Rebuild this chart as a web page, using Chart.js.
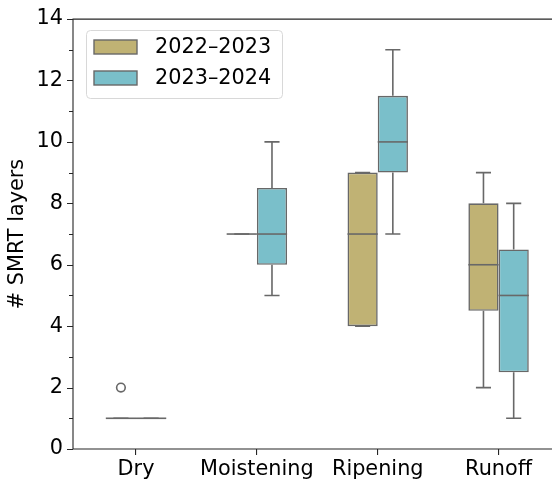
<!DOCTYPE html>
<html>
<head>
<meta charset="utf-8">
<script src="https://cdn.jsdelivr.net/npm/chart.js@4/dist/chart.umd.min.js"></script>
<style>
  html, body { margin: 0; padding: 0; background: #fff; overflow: hidden; }
  #wrap { width: 560px; height: 480px; }
</style>
</head>
<body>
<div id="wrap"><canvas id="box"></canvas></div>
<script>
// categories + series
const categories = ['Dry', 'Moistening', 'Ripening', 'Runoff'];
const seasons = ['2022\u20132023', '2023\u20132024'];

// 2022-2023 box stats
const q1_a  = [1, 7, 4, 4.5];
const med_a = [1, 7, 7, 6];
const q3_a  = [1, 7, 9, 8];
const lo_a  = [1, 7, 4, 2];
const hi_a  = [1, 7, 9, 9];
const out_a = [[2], [], [], []];

// 2023-2024 box stats
const q1_b  = [1, 6, 9, 2.5];
const med_b = [1, 7, 10, 5];
const q3_b  = [1, 8.5, 11.5, 6.5];
const lo_b  = [1, 5, 7, 1];
const hi_b  = [1, 10, 13, 8];
const out_b = [[], [], [], []];

const yTicks = [0, 2, 4, 6, 8, 10, 12, 14];
const yMinor = [1, 3, 5, 7, 9, 11, 13];

const colors = ['#c0b274', '#7abfca'];
const lineCol = '#686868';
const spineCol = '#262626';
const FONT = 'DejaVu Sans';
const SPINE_X = 73;   // left spine sits a bit left of the category area

const stats = [
  { med: med_a, lo: lo_a, hi: hi_a, out: out_a },
  { med: med_b, lo: lo_b, hi: hi_b, out: out_b }
];

// whiskers, medians, outliers, spines, y ticks, legend
const boxPlugin = {
  id: 'boxExtras',
  afterDatasetsDraw(chart) {
    const ctx = chart.ctx;
    const y = chart.scales.y;
    ctx.save();
    ctx.strokeStyle = lineCol;
    ctx.lineWidth = 1.6;
    stats.forEach((s, di) => {
      const meta = chart.getDatasetMeta(di);
      meta.data.forEach((el, i) => {
        const cx = el.x, w = el.width;
        const yq1 = y.getPixelForValue(chart.data.datasets[di].data[i][0]);
        const yq3 = y.getPixelForValue(chart.data.datasets[di].data[i][1]);
        const ylo = y.getPixelForValue(s.lo[i]);
        const yhi = y.getPixelForValue(s.hi[i]);
        ctx.beginPath();
        // whiskers
        ctx.moveTo(cx, yq3); ctx.lineTo(cx, yhi);
        ctx.moveTo(cx, yq1); ctx.lineTo(cx, ylo);
        // caps
        ctx.moveTo(cx - w / 4, yhi); ctx.lineTo(cx + w / 4, yhi);
        ctx.moveTo(cx - w / 4, ylo); ctx.lineTo(cx + w / 4, ylo);
        ctx.stroke();
        // median
        const ym = y.getPixelForValue(s.med[i]);
        ctx.beginPath();
        ctx.moveTo(cx - w / 2, ym); ctx.lineTo(cx + w / 2, ym);
        ctx.stroke();
        // outliers
        s.out[i].forEach(v => {
          ctx.beginPath();
          ctx.arc(cx, y.getPixelForValue(v), 4.3, 0, Math.PI * 2);
          ctx.stroke();
        });
      });
    });
    ctx.restore();
  },
  afterDraw(chart) {
    const ctx = chart.ctx;
    const a = chart.chartArea;
    const y = chart.scales.y;
    ctx.save();
    ctx.strokeStyle = spineCol;
    ctx.lineWidth = 1.1;
    // spines: left, top, bottom
    ctx.beginPath();
    ctx.moveTo(SPINE_X, a.bottom); ctx.lineTo(SPINE_X, a.top);
    ctx.moveTo(SPINE_X - 0.5, a.top); ctx.lineTo(a.right, a.top);
    ctx.moveTo(SPINE_X - 0.5, a.bottom); ctx.lineTo(a.right, a.bottom);
    ctx.stroke();
    // y ticks, major and minor
    ctx.beginPath();
    yTicks.forEach(v => {
      const py = Math.round(y.getPixelForValue(v)) + 0.5;
      ctx.moveTo(SPINE_X - 6, py); ctx.lineTo(SPINE_X, py);
    });
    yMinor.forEach(v => {
      const py = Math.round(y.getPixelForValue(v)) + 0.5;
      ctx.moveTo(SPINE_X - 4, py); ctx.lineTo(SPINE_X, py);
    });
    ctx.stroke();

    // legend
    const lx = 86, ly = 30, lw = 196, lh = 68;
    ctx.fillStyle = 'rgba(255,255,255,0.8)';
    ctx.strokeStyle = '#d8d8d8';
    ctx.lineWidth = 1;
    ctx.beginPath();
    ctx.roundRect(lx + 0.5, ly + 0.5, lw, lh, 4);
    ctx.fill();
    ctx.stroke();
    ctx.font = '20.8px "' + FONT + '"';
    ctx.textBaseline = 'middle';
    seasons.forEach((name, i) => {
      const ry = 40 + i * 31;
      ctx.fillStyle = colors[i];
      ctx.fillRect(94, ry, 43, 14);
      ctx.strokeStyle = lineCol;
      ctx.lineWidth = 1.4;
      ctx.strokeRect(94, ry, 43, 14);
      ctx.fillStyle = '#000';
      ctx.fillText(name, 155, ry + 8);
    });
    ctx.restore();
  }
};

new Chart(document.getElementById('box'), {
  type: 'bar',
  data: {
    labels: categories,
    datasets: [
      {
        label: seasons[0],
        data: q1_a.map((v, i) => [v, q3_a[i]]),
        backgroundColor: colors[0],
        borderColor: lineCol,
        borderWidth: 1.6,
        borderSkipped: false,
        categoryPercentage: 0.5,
        barPercentage: 1.0
      },
      {
        label: seasons[1],
        data: q1_b.map((v, i) => [v, q3_b[i]]),
        backgroundColor: colors[1],
        borderColor: lineCol,
        borderWidth: 1.6,
        borderSkipped: false,
        categoryPercentage: 0.5,
        barPercentage: 1.0
      }
    ]
  },
  options: {
    responsive: true,
    maintainAspectRatio: false,
    animation: false,
    layout: { padding: { top: 18, right: 1, left: 0, bottom: 0 } },
    plugins: {
      legend: { display: false },
      tooltip: { enabled: false }
    },
    scales: {
      x: {
        grid: { display: true, offset: false, drawOnChartArea: false, tickLength: 6, color: spineCol, lineWidth: 1.1 },
        border: { display: false },
        ticks: { color: '#000', font: { family: FONT, size: 20.8 }, padding: 2 },
        afterFit(s) { s.height = 31; }
      },
      y: {
        min: 0, max: 14,
        afterBuildTicks(s) { s.ticks = yTicks.map(v => ({ value: v })); },
        grid: { display: true, drawOnChartArea: false, tickLength: 6, color: 'rgba(0,0,0,0)' },
        border: { display: false },
        ticks: { color: '#000', font: { family: FONT, size: 20.8 }, padding: 6.6 },
        title: {
          display: true,
          text: '# SMRT layers',
          color: '#000',
          font: { family: FONT, size: 20.8 },
          padding: { top: 5, bottom: 0 }
        },
        afterFit(s) { s.width = 75.6; }
      }
    }
  },
  plugins: [boxPlugin]
});
</script>
</body>
</html>
